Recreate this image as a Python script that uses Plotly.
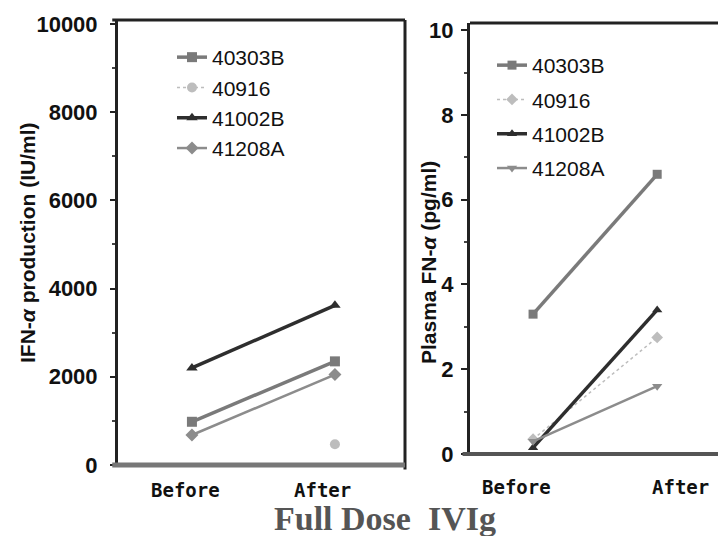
import plotly.graph_objects as go

categories = ["Before", "After"]
series = ["40303B", "40916", "41002B", "41208A"]

# Left panel: IFN-alpha production (IU/ml)
left_40303B = [980, 2350]
left_40916 = [None, 470]
left_41002B = [2200, 3620]
left_41208A = [680, 2050]

# Right panel: Plasma FN-alpha (pg/ml)
right_40303B = [3.3, 6.6]
right_40916 = [0.35, 2.75]
right_41002B = [0.15, 3.4]
right_41208A = [0.3, 1.6]

left_vals = [left_40303B, left_40916, left_41002B, left_41208A]
right_vals = [right_40303B, right_40916, right_41002B, right_41208A]

left_ticks = [0, 2000, 4000, 6000, 8000, 10000]
right_ticks = [0, 2, 4, 6, 8, 10]

colors = ["#7a7a7a", "#bdbdbd", "#2e2e2e", "#8c8c8c"]
widths = [3.5, 1.5, 3.5, 2.5]
dashes = ["solid", "dot", "solid", "solid"]
left_symbols = ["square", "circle", "triangle-up", "diamond"]
right_symbols = ["square", "diamond", "triangle-up", "triangle-down"]

fig = go.Figure()
for i, name in enumerate(series):
    fig.add_trace(go.Scatter(
        x=categories, y=left_vals[i], name=name, mode="lines+markers",
        line=dict(color=colors[i], width=widths[i], dash=dashes[i]),
        marker=dict(symbol=left_symbols[i], size=10, color=colors[i]),
        xaxis="x", yaxis="y", legend="legend", legendgroup="L" + name,
    ))
for i, name in enumerate(series):
    fig.add_trace(go.Scatter(
        x=categories, y=right_vals[i], name=name, mode="lines+markers",
        line=dict(color=colors[i], width=widths[i], dash=dashes[i]),
        marker=dict(symbol=right_symbols[i], size=9, color=colors[i]),
        xaxis="x2", yaxis="y2", legend="legend2", legendgroup="R" + name,
    ))

W, H = 718, 536
tickfont = dict(family="Liberation Sans, Arial", size=22, color="#111")
legfont = dict(family="Liberation Sans, Arial", size=21, color="#111")
titlefont = dict(family="Liberation Sans, Arial", size=21, color="#111")

fig.update_layout(
    width=W, height=H,
    margin=dict(l=0, r=0, t=0, b=0, autoexpand=False),
    paper_bgcolor="white", plot_bgcolor="white",
    showlegend=True,
    xaxis=dict(domain=[118 / W, 405 / W], type="category", range=[-0.517, 1.49],
               showticklabels=False, showgrid=False, zeroline=False,
               showline=False, ticks="", automargin=False),
    yaxis=dict(domain=[1 - 465 / H, 1 - 20 / H], range=[0, 10090], automargin=False,
               tickvals=left_ticks, ticktext=[f"<b>{v}</b>" for v in left_ticks],
               tickfont=tickfont, ticks="outside", ticklen=5, tickwidth=2,
               ticklabelstandoff=8,
               tickcolor="#222", showgrid=False, zeroline=False,
               showline=True, linecolor="#222", linewidth=3,
               minor=dict(dtick=1000, ticks="outside", ticklen=3, tickcolor="#444")),
    xaxis2=dict(domain=[470 / W, 1.0], type="category", range=[-0.508, 1.49],
                showticklabels=False, showgrid=False, zeroline=False,
                showline=False, ticks="", anchor="y2", automargin=False),
    yaxis2=dict(domain=[1 - 454 / H, 1 - 23 / H], range=[0, 10.17], anchor="x2",
                automargin=False,
                tickvals=right_ticks, ticktext=[f"<b>{v}</b>" for v in right_ticks],
                tickfont=tickfont, ticks="outside", ticklen=6, tickwidth=2,
                ticklabelstandoff=3,
                tickcolor="#222", showgrid=False, zeroline=False,
                showline=True, linecolor="#222", linewidth=3,
                minor=dict(dtick=1, ticks="outside", ticklen=3, tickcolor="#444")),
    legend=dict(x=172 / W, y=1 - 37 / H, xanchor="left", yanchor="top",
                font=legfont, bgcolor="rgba(0,0,0,0)", tracegroupgap=0,
                itemwidth=30),
    legend2=dict(x=492 / W, y=1 - 45 / H, xanchor="left", yanchor="top",
                 font=legfont, bgcolor="rgba(0,0,0,0)", tracegroupgap=4,
                 itemwidth=30),
)

# Axis titles
fig.add_annotation(text="<b>IFN-<i>α</i> production (IU/ml)</b>", x=27 / W, y=1 - 243 / H,
                   xref="paper", yref="paper", xanchor="center", yanchor="middle",
                   textangle=-90, showarrow=False, font=titlefont)
fig.add_annotation(text="<b>Plasma FN-<i>α</i> (pg/ml)</b>", x=428 / W, y=1 - 263 / H,
                   xref="paper", yref="paper", xanchor="center", yanchor="middle",
                   textangle=-90, showarrow=False, font=titlefont)

# Frame lines
line_dark = dict(color="#222", width=3)
fig.add_shape(type="line", xref="x domain", yref="y domain", x0=-0.02, x1=1, y0=1, y1=1, line=line_dark)
fig.add_shape(type="line", xref="x domain", yref="y domain", x0=1, x1=1, y0=-0.01, y1=1, line=line_dark)
fig.add_shape(type="line", xref="x domain", yref="y domain", x0=-0.02, x1=1, y0=0, y1=0,
              line=dict(color="#777", width=5))
fig.add_shape(type="line", xref="x2 domain", yref="y2 domain", x0=0, x1=1, y0=1, y1=1, line=line_dark)
fig.add_shape(type="line", xref="x2 domain", yref="y2 domain", x0=-0.03, x1=1, y0=0, y1=0,
              line=dict(color="#555", width=4))

# Category labels
labfont = dict(family="DejaVu Sans Mono", size=19, color="#111")
for c, sh in zip(categories, [-6, -12]):
    fig.add_annotation(text=f"<b>{c}</b>", x=c, xref="x", y=1 - 490 / H, yref="paper",
                       yanchor="middle", showarrow=False, font=labfont, xshift=sh)
for c, sh in zip(categories, [-17, 23]):
    fig.add_annotation(text=f"<b>{c}</b>", x=c, xref="x2", y=1 - 487 / H, yref="paper",
                       yanchor="middle", showarrow=False, font=labfont, xshift=sh)

fig.add_annotation(text="<b>Full Dose  IVIg</b>", x=385 / W, y=1 - 518 / H,
                   xref="paper", yref="paper", yanchor="middle", showarrow=False,
                   font=dict(family="Liberation Serif", size=34, color="#555"))

fig.write_html("out.html", config={"displayModeBar": False},
               post_script="document.body.style.margin='0';document.body.style.overflow='hidden';")
